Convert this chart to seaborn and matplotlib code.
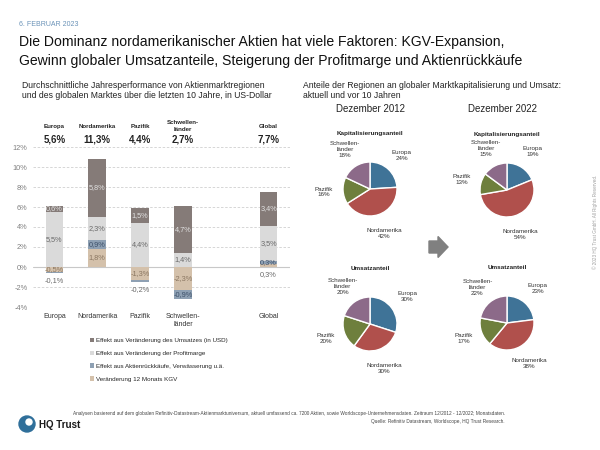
import matplotlib
matplotlib.use("Agg")
import matplotlib.pyplot as plt
import seaborn as sns
import numpy as np
from matplotlib.patches import Patch, Circle, FancyArrow

# --- Daten: Performance-Zerlegung (Prozentpunkte p.a.) ---
regions = ["Europa", "Nordamerika", "Pazifik", "Schwellen-\nländer", "Global"]
totals = [5.6, 11.3, 4.4, 2.7, 7.7]
kgv = [-0.5, 1.8, -1.3, -2.3, 0.3]
rueckkauf = [-0.1, 0.9, -0.2, -0.9, 0.3]
marge = [5.5, 2.3, 4.4, 1.4, 3.5]
umsatz = [0.6, 5.8, 1.5, 4.7, 3.4]

legend_labels = [
    "Effekt aus Veränderung des Umsatzes (in USD)",
    "Effekt aus Veränderung der Profitmarge",
    "Effekt aus Aktienrückkäufe, Verwässerung u.ä.",
    "Veränderung 12 Monats KGV",
]

# --- Daten: Anteile der Regionen ---
pie_regions = ["Europa", "Nordamerika", "Pazifik", "Schwellen-\nländer"]
kap_2012 = [24, 42, 16, 18]
kap_2022 = [19, 54, 13, 15]
ums_2012 = [30, 30, 20, 20]
ums_2022 = [23, 38, 17, 22]

C_UMS, C_MARGE, C_RK, C_KGV = "#857b78", "#dadada", "#8ea0b3", "#d4c1ab"
PIE_COLORS = ["#3f7397", "#b0504c", "#6e7f3d", "#8c6a89"]

sns.set_theme(style="white")
plt.rcParams["font.family"] = ["Liberation Sans", "DejaVu Sans"]

fig = plt.figure(figsize=(6, 4.5), dpi=100)
W, H = 600, 450


def fx(px):
    return px / W


def fy(py):
    return 1 - py / H


def pct(v):
    return f"{v:.1f}%".replace(".", ",")


# header texts
fig.text(fx(19), fy(24), "6. FEBRUAR 2023", fontsize=5, color="#6b93b8", va="center")
fig.text(fx(19), fy(35),
         "Die Dominanz nordamerikanischer Aktien hat viele Faktoren: KGV-Expansion,\n"
         "Gewinn globaler Umsatzanteile, Steigerung der Profitmarge und Aktienrückkäufe",
         fontsize=10.1, va="top", linespacing=1.5, color="#111111")
fig.text(fx(22), fy(81),
         "Durchschnittliche Jahresperformance von Aktienmarktregionen\n"
         "und des globalen Marktes über die letzten 10 Jahre, in US-Dollar",
         fontsize=6.2, va="top", linespacing=1.2, color="#222222")
fig.text(fx(303), fy(81),
         "Anteile der Regionen an globaler Marktkapitalisierung und Umsatz:\n"
         "aktuell und vor 10 Jahren",
         fontsize=6.2, va="top", linespacing=1.2, color="#222222")
fig.text(fx(371), fy(109), "Dezember 2012", fontsize=7, ha="center", va="center", color="#222222")
fig.text(fx(503), fy(109), "Dezember 2022", fontsize=7, ha="center", va="center", color="#222222")

# --- gestapeltes Balkendiagramm ---
ax = fig.add_axes([fx(33), fy(307), fx(290) - fx(33), (307 - 147) / H])
order = regions[:4] + [""] + regions[4:]
xpos = [order.index(r) for r in regions]

series = [
    ("kgv", kgv, C_KGV, "#8a7661"),
    ("rk", rueckkauf, C_RK, "#3e516a"),
    ("marge", marge, C_MARGE, "#6a6a6a"),
    ("ums", umsatz, C_UMS, "#e2e2e2"),
]
# kleine Segmente: Beschriftung unterhalb des Balkens
outside = {("rk", 0), ("rk", 2), ("kgv", 4)}

pos_base = np.zeros(len(regions))
neg_base = np.zeros(len(regions))
label_jobs = []
for name, vals, col, tcol in series:
    vals = np.array(vals, dtype=float)
    bottom = np.where(vals >= 0, pos_base, neg_base)
    sns.barplot(x=regions, y=vals, order=order, bottom=bottom, color=col,
                saturation=1, width=0.41, errorbar=None, linewidth=0, ax=ax, zorder=2)
    for i, v in enumerate(vals):
        label_jobs.append((name, i, v, bottom[i] + v / 2, tcol))
    pos_base = np.where(vals >= 0, pos_base + vals, pos_base)
    neg_base = np.where(vals < 0, neg_base + vals, neg_base)

for name, i, v, yc, tcol in label_jobs:
    if (name, i) in outside:
        yc = min(neg_base[i], 0) - 0.75
        tcol = "#6a6a6a"
    ax.text(xpos[i], yc, pct(v), ha="center", va="center", fontsize=5.3, color=tcol, zorder=3)

ax.set_xlim(-0.5, len(order) - 0.5)
ax.set_ylim(-4, 12)
yt = np.arange(-4, 13, 2)
ax.set_yticks(yt)
ax.set_yticklabels([f"{t}%" for t in yt], fontsize=5.3, color="#808080")
for t in yt:
    if t == 0:
        ax.axhline(t, color="#c8c8c8", lw=0.8, zorder=1)
    else:
        ax.axhline(t, color="#d0d0d0", lw=0.6, ls=(0, (3, 2)), zorder=0)
ax.set_xticks(xpos)
ax.set_xticklabels(regions, fontsize=5, color="#333333", linespacing=1.3, va="top")
ax.tick_params(axis="both", length=0)
ax.tick_params(axis="y", pad=4)
ax.tick_params(axis="x", pad=4)
ax.set_xlabel("")
ax.set_ylabel("")
sns.despine(ax=ax, left=True, bottom=True)

tr = ax.get_xaxis_transform()
for i, r in enumerate(regions):
    ax.text(xpos[i], 1.13, r, transform=tr, ha="center", va="center", fontsize=4.4,
            fontweight="bold", color="#222222", linespacing=1.4)
    ax.text(xpos[i], 1.045, pct(totals[i]), transform=tr, ha="center", va="center",
            fontsize=7, fontweight="bold", color="#222222")

handles = [Patch(facecolor=c, edgecolor="none") for c in [C_UMS, C_MARGE, C_RK, C_KGV]]
fig.legend(handles, legend_labels, loc="upper left", bbox_to_anchor=(fx(84), fy(332)),
           frameon=False, fontsize=4.5, handlelength=0.7, handleheight=0.7,
           handletextpad=0.3, labelspacing=1.2, borderpad=0.4)


# --- Kreisdiagramme ---
def draw_pie(cx, cy, values, title):
    r = 27
    hw, hh = 80, 66
    pax = fig.add_axes([fx(cx - hw), fy(cy + hh), 2 * hw / W, 2 * hh / H])
    labels = [f"{n}\n{v}%" for n, v in zip(pie_regions, values)]
    wedges, texts = pax.pie(values, labels=labels, colors=PIE_COLORS, startangle=90,
                            counterclock=False, labeldistance=1.72,
                            wedgeprops=dict(edgecolor="white", linewidth=1.0),
                            textprops=dict(fontsize=4.5, color="#333333"))
    for t in texts:
        t.set_ha("center")
        t.set_va("center")
        t.set_linespacing(1.2)
    pax.set_xlim(-hw / r, hw / r)
    pax.set_ylim(-hh / r, hh / r)
    pax.text(0, 2.05, title, ha="center", va="center", fontsize=4.6, fontweight="bold",
             color="#222222")
    pax.set_axis_off()


draw_pie(370, 189, kap_2012, "Kapitalisierungsanteil")
draw_pie(507, 190, kap_2022, "Kapitalisierungsanteil")
draw_pie(370, 324, ums_2012, "Umsatzanteil")
draw_pie(507, 323, ums_2022, "Umsatzanteil")

# Pfeil zwischen den Jahren
fig.patches.append(FancyArrow(4.29, (H - 247) / 100, 0.09, 0, width=0.12, head_width=0.21,
                              head_length=0.10, length_includes_head=False,
                              color="#808080", transform=fig.dpi_scale_trans, figure=fig))

# Copyright vertikal
fig.text(fx(595), fy(222), "© 2023 HQ Trust GmbH. All Rights Reserved.", rotation=90,
         fontsize=3.3, color="#a0a0a0", ha="center", va="center")

# Fußnote
fig.text(fx(505), fy(414),
         "Analysen basierend auf dem globalen Refinitiv-Datastream-Aktienmarktuniversum, aktuell "
         "umfassend ca. 7200 Aktien, sowie Worldscope-Unternehmensdaten. Zeitraum 12/2012 - 12/2022; Monatsdaten.",
         fontsize=3.4, ha="right", va="center", color="#444444")
fig.text(fx(505), fy(421), "Quelle: Refinitiv Datastream, Worldscope, HQ Trust Research.",
         fontsize=3.4, ha="right", va="center", color="#444444")

# Logo
fig.patches.append(Circle((0.27, (H - 424) / 100), 0.08, color="#2f6f9a",
                          transform=fig.dpi_scale_trans, figure=fig))
fig.patches.append(Circle((0.29, (H - 422) / 100), 0.03, color="white",
                          transform=fig.dpi_scale_trans, figure=fig))
fig.text(fx(39), fy(425), "HQ Trust", fontsize=7, fontweight="bold", color="#1a1a1a",
         va="center")

fig.savefig("out.png", dpi=100)
